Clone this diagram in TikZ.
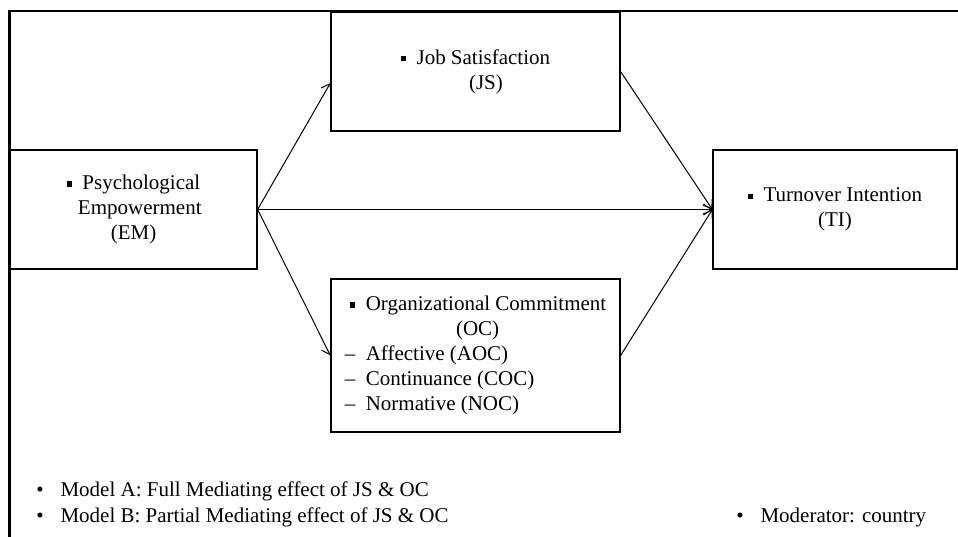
\documentclass[tikz,border=0pt]{standalone}
\usepackage{fontspec}
\setmainfont{Liberation Serif}
\usetikzlibrary{positioning, arrows.meta}

\newcommand{\sqbul}{\raisebox{0.3ex}{\rule{0.25em}{0.25em}}\hspace{0.5em}}

\tikzset{
    box/.style={draw, rectangle, line width=0.6pt, inner sep=0pt, align=center,
        font=\fontsize{10.5}{12.5}\selectfont},
    link/.style={-{Straight Barb[length=4pt, width=5.5pt]}, line width=0.5pt},
    note/.style={anchor=west, inner sep=0pt, font=\fontsize{10.5}{12.5}\selectfont}
}

\begin{document}
\begin{tikzpicture}[x=0.5pt, y=-0.5pt]
    \useasboundingbox (0,0) rectangle (958,536);

    % outer frame
    \draw[line width=1.3pt] (9.5,540) -- (9.5,11) -- (962,11);

    % boxes
    \node[box, minimum width=123.5pt, minimum height=59.5pt] (EM) at (133.5,209.5)
        {\sqbul Psychological\\ \hspace*{0.6em}Empowerment\\ (EM)};
    \node[box, minimum width=144.5pt, minimum height=59.5pt] (JS) at (475.5,71.5)
        {\sqbul Job Satisfaction\\ \hspace*{1em}(JS)};
    \node[box, minimum width=122pt, minimum height=59.5pt] (TI) at (835,209.5)
        {\sqbul Turnover Intention\\ (TI)};
    \node[box, minimum width=144.5pt, minimum height=76.5pt, align=left] (OC) at (475.5,355.5)
        {\hspace*{0.25em}\sqbul Organizational Commitment\\
         \hspace*{5.3em}(OC)\\
         -- \ Affective (AOC)\\
         -- \ Continuance (COC)\\
         -- \ Normative (NOC)};

    % paths
    \draw[link] (EM.east) -- ([yshift=-5.75pt]JS.west);
    \draw[link] (EM.east) -- (OC.west);
    \draw[link] (EM.east) -- (TI.west);
    \draw[link] (JS.east) -- (TI.west);
    \draw[link] (OC.east) -- (TI.west);

    % legend
    \node[note] (modelA) at (36,491) {\textbullet\hspace{0.8em}Model A: Full Mediating effect of JS \& OC};
    \node[note] (modelB) at (36,517) {\textbullet\hspace{0.8em}Model B: Partial Mediating effect of JS \& OC};
    \node[note] (moder) at (736,517) {\textbullet\hspace{0.8em}Moderator: country};
\end{tikzpicture}
\end{document}
